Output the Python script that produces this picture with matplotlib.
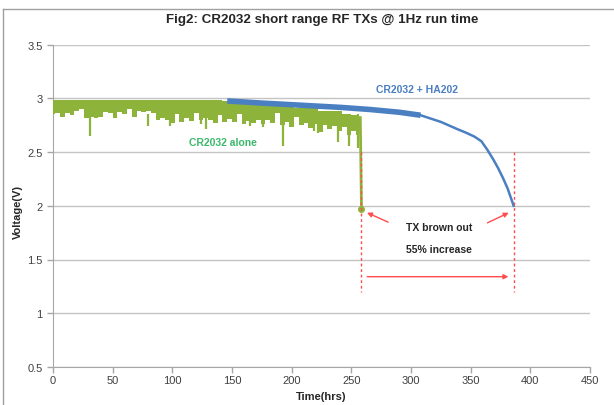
import matplotlib
matplotlib.use("Agg")
import matplotlib.pyplot as plt
from matplotlib.lines import Line2D

plt.rcParams['font.family'] = ['Liberation Sans', 'DejaVu Sans']

# CR2032 alone: sampled bar tops/bottoms (hrs, V)
green_t = [0, 4, 8, 12, 16, 20, 24, 28, 32, 36, 40, 44, 48, 52, 56, 60, 64, 68, 72, 76,
           80, 84, 88, 92, 96, 100, 104, 108, 112, 116, 120, 124, 128, 132, 136, 140, 144,
           148, 152, 156, 160, 164, 168, 172, 176, 180, 184, 188, 192, 196, 200, 204, 208,
           212, 216, 220, 224, 228, 232, 236, 240, 244, 248, 252, 256]
green_low = [2.85, 2.86, 2.83, 2.86, 2.84, 2.88, 2.90, 2.82, 2.83, 2.82, 2.83, 2.87, 2.86,
             2.82, 2.87, 2.85, 2.90, 2.83, 2.88, 2.87, 2.88, 2.86, 2.80, 2.82, 2.80, 2.77,
             2.85, 2.78, 2.82, 2.79, 2.86, 2.80, 2.82, 2.80, 2.77, 2.84, 2.78, 2.81, 2.78,
             2.85, 2.76, 2.79, 2.77, 2.80, 2.76, 2.80, 2.77, 2.86, 2.75, 2.78, 2.73, 2.83,
             2.75, 2.77, 2.72, 2.76, 2.69, 2.75, 2.71, 2.74, 2.70, 2.73, 2.66, 2.70, 2.66]
green_top = [2.985, 2.985, 2.985, 2.985, 2.985, 2.985, 2.985, 2.985, 2.985, 2.985, 2.985,
             2.985, 2.985, 2.985, 2.985, 2.985, 2.985, 2.985, 2.985, 2.985, 2.985, 2.985,
             2.985, 2.985, 2.985, 2.985, 2.98, 2.98, 2.98, 2.98, 2.98, 2.98, 2.98, 2.98,
             2.98, 2.98, 2.97, 2.97, 2.97, 2.97, 2.97, 2.95, 2.95, 2.95, 2.95, 2.95, 2.93,
             2.93, 2.93, 2.93, 2.93, 2.91, 2.91, 2.91, 2.91, 2.91, 2.88, 2.88, 2.88, 2.88,
             2.88, 2.85, 2.85, 2.84, 2.84]
spike_t = [31, 80, 98, 124, 128, 165, 176, 193, 219, 222, 239, 248, 256]
spike_v = [2.65, 2.74, 2.74, 2.76, 2.71, 2.74, 2.73, 2.56, 2.70, 2.68, 2.59, 2.56, 2.54]
drop_t = [257.5, 258.5]
drop_v = [2.82, 1.97]

# CR2032 + HA202
blue_t = [146, 175, 200, 241, 266, 290, 308, 325, 339, 346, 353, 359, 364, 369, 373,
          377, 381, 386]
blue_v = [2.975, 2.955, 2.94, 2.915, 2.895, 2.87, 2.842, 2.78, 2.712, 2.68, 2.644, 2.60,
          2.52, 2.43, 2.35, 2.26, 2.16, 2.0]
band_end = 7  # index where the noisy thick part ends

GREEN = '#8db33a'
BLUE = '#4a7fc1'
RED = '#ff4c4c'

fig = plt.figure(figsize=(6.14, 4.06), dpi=100)
ax = fig.add_axes([53 / 614, 1 - 368 / 406, 537 / 614, 322.5 / 406])

# outer chart frame
fig.add_artist(Line2D([3 / 614, 3 / 614], [0, 1 - 10 / 406], color='#a0a0a0', lw=1,
                      transform=fig.transFigure))
fig.add_artist(Line2D([3 / 614, 1], [1 - 10 / 406, 1 - 10 / 406], color='#a0a0a0', lw=1,
                      transform=fig.transFigure))

ax.fill_between(green_t, green_low, green_top, step='mid', color=GREEN, lw=0, zorder=3)
ax.vlines(spike_t, spike_v, [2.85] * len(spike_t), color=GREEN, lw=1.6, zorder=3)
ax.plot(drop_t, drop_v, color=GREEN, lw=2, zorder=3)
ax.plot([drop_t[-1]], [drop_v[-1]], 'o', color=GREEN, ms=4, zorder=4)

ax.plot(blue_t[:band_end], blue_v[:band_end], color=BLUE, lw=4, solid_capstyle='butt', zorder=4)
ax.plot(blue_t[band_end - 1:], blue_v[band_end - 1:], color=BLUE, lw=1.8, zorder=4)

# brown-out markers
for x in [258.5, 386]:
    ax.plot([x, x], [2.5, 1.2], color=RED, lw=1, ls=(0, (2, 2)), zorder=5)
arrow = dict(arrowstyle='-|>', color=RED, lw=1, mutation_scale=7)
ax.annotate('', xy=(261, 1.946), xytext=(283, 1.837), arrowprops=arrow)
ax.annotate('', xy=(384, 1.946), xytext=(362, 1.83), arrowprops=arrow)
ax.annotate('', xy=(384, 1.34), xytext=(261, 1.34), arrowprops=arrow)

ax.text(323.5, 1.80, 'TX brown out', ha='center', va='center', fontsize=7.5,
        fontweight='bold', color='#262626')
ax.text(323.5, 1.60, '55% increase', ha='center', va='center', fontsize=7.5,
        fontweight='bold', color='#262626')
ax.text(305, 3.09, 'CR2032 + HA202', ha='center', va='center', fontsize=7.5,
        fontweight='bold', color=BLUE)
ax.text(142.5, 2.59, 'CR2032 alone', ha='center', va='center', fontsize=7.5,
        fontweight='bold', color='#3cb86a')

ax.set_xlim(0, 450)
ax.set_ylim(0.5, 3.5)
ax.set_xticks(range(0, 451, 50))
ax.set_yticks([0.5, 1, 1.5, 2, 2.5, 3, 3.5])
ax.set_yticklabels(['0.5', '1', '1.5', '2', '2.5', '3', '3.5'])
ax.tick_params(labelsize=8, colors='#404040', length=4, width=1)
ax.tick_params(axis='both', color='#a6a6a6')
ax.tick_params(axis='x', pad=2)
ax.yaxis.grid(True, color='#c4c4c4', lw=1)
ax.set_axisbelow(True)
for s in ['top', 'right']:
    ax.spines[s].set_visible(False)
for s in ['left', 'bottom']:
    ax.spines[s].set_color('#a6a6a6')

fig.text(322 / 614, 1 - 20 / 406, 'Fig2: CR2032 short range RF TXs @ 1Hz run time',
         ha='center', va='center', fontsize=9.6, fontweight='bold', color='#262626')
fig.text(18 / 614, 1 - 212 / 406, 'Voltage(V)', rotation=90, ha='center', va='center',
         fontsize=8, fontweight='bold', color='#262626')
fig.text(321 / 614, 1 - 397 / 406, 'Time(hrs)', ha='center', va='center',
         fontsize=8, fontweight='bold', color='#262626')

fig.savefig('out.png', dpi=100)
